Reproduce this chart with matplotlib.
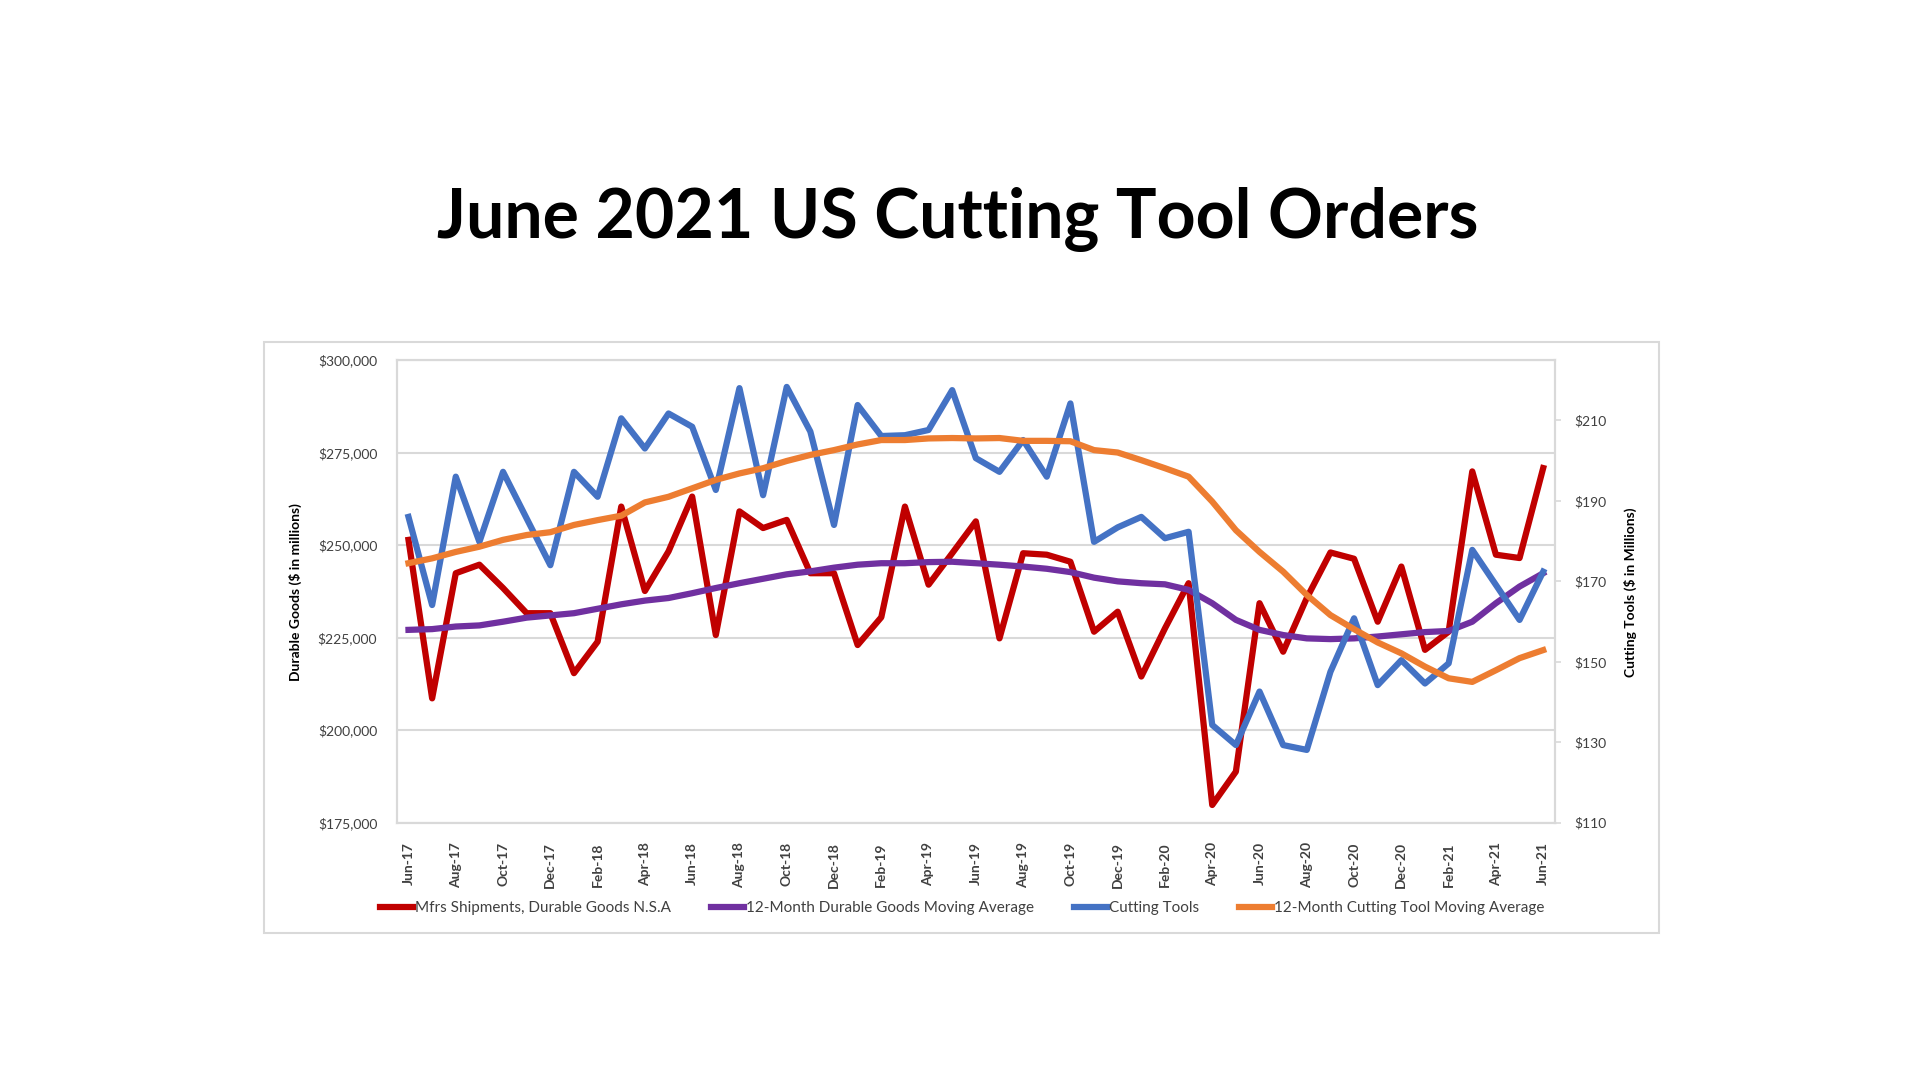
import matplotlib
matplotlib.use("Agg")
import matplotlib.pyplot as plt
from matplotlib.lines import Line2D
from matplotlib.patches import Rectangle
from matplotlib.ticker import FuncFormatter

plt.rcParams['font.family'] = ['Lato', 'DejaVu Sans']

#---------------------Data (Jun-17 .. Jun-21, monthly)---------------------
tick_labels = ['Jun-17', 'Aug-17', 'Oct-17', 'Dec-17', 'Feb-18', 'Apr-18', 'Jun-18',
               'Aug-18', 'Oct-18', 'Dec-18', 'Feb-19', 'Apr-19', 'Jun-19', 'Aug-19',
               'Oct-19', 'Dec-19', 'Feb-20', 'Apr-20', 'Jun-20', 'Aug-20', 'Oct-20',
               'Dec-20', 'Feb-21', 'Apr-21', 'Jun-21']

# Mfrs shipments, durable goods ($ millions)
durable_goods = [251400, 208600, 242400, 244700, 238400, 231600, 231600, 215400, 223900,
                 260400, 237600, 248300, 263100, 225700, 259100, 254600, 256800, 242400,
                 242400, 223000, 230500, 260400, 239300, 247800, 256400, 224800, 247800,
                 247400, 245500, 226600, 232000, 214500, 227500, 239700, 179800, 188800,
                 234300, 221200, 235700, 248000, 246300, 229300, 244200, 221700, 226600,
                 269900, 247400, 246500, 270800]

durable_avg = [227100, 227300, 228000, 228300, 229300, 230400, 231000, 231600, 232800,
               234000, 235000, 235700, 237000, 238400, 239700, 240900, 242100, 242900,
               243900, 244700, 245100, 245100, 245400, 245500, 245100, 244700, 244200,
               243600, 242700, 241200, 240200, 239700, 239400, 237900, 234300, 229800,
               227100, 225700, 224800, 224600, 224800, 225300, 225900, 226500, 226800,
               229300, 234300, 238800, 242400]

# Cutting tool orders ($ millions)
cutting_tools = [186.0, 164.1, 196.0, 179.8, 197.2, 185.6, 174.0, 197.2, 191.0, 210.5,
                 203.0, 211.7, 208.4, 192.7, 218.0, 191.4, 218.3, 207.2, 184.0, 213.8,
                 206.1, 206.3, 207.6, 217.5, 200.6, 197.2, 205.1, 196.0, 214.2, 179.8,
                 183.4, 186.0, 180.7, 182.3, 134.3, 129.3, 142.6, 129.3, 128.1, 147.5,
                 160.8, 144.2, 150.4, 144.6, 149.6, 177.8, 169.1, 160.4, 172.4]

cutting_avg = [174.5, 175.7, 177.3, 178.6, 180.3, 181.5, 182.2, 184.0, 185.2, 186.3,
               189.6, 191.0, 193.1, 195.2, 196.8, 198.1, 199.9, 201.4, 202.6, 204.0,
               205.1, 205.1, 205.5, 205.6, 205.5, 205.6, 204.9, 204.9, 204.8, 202.6,
               202.0, 200.1, 198.1, 196.0, 189.8, 182.7, 177.3, 172.4, 166.6, 161.6,
               158.1, 154.8, 152.1, 148.8, 145.9, 145.0, 147.9, 150.9, 152.9]

months = list(range(len(durable_goods)))

c_red = '#C00000'
c_purple = '#7030A0'
c_blue = '#4472C4'
c_orange = '#ED7D31'
c_grid = '#D9D9D9'
c_text = '#404040'
lw = 4.5

fig = plt.figure(figsize=(19.2, 10.8), dpi=100)
fig.patch.set_facecolor('white')

# outer chart frame
fig.patches.append(Rectangle((0.1373, 0.1361), 0.864 - 0.1373, 0.6833 - 0.1361,
                             transform=fig.transFigure, fill=False,
                             edgecolor=c_grid, linewidth=1.5))

fig.text(0.499, 0.797, 'June 2021 US Cutting Tool Orders', ha='center', va='center',
         fontsize=49, fontweight='bold', color='black')

ax1 = fig.add_axes([0.2066, 0.2382, 0.8099 - 0.2066, 0.6667 - 0.2382])
ax1.plot(months, durable_goods, color=c_red, linewidth=lw)
ax1.plot(months, durable_avg, color=c_purple, linewidth=lw)
ax1.set_ylim(175000, 300000)
ax1.set_yticks(range(175000, 300001, 25000))
ax1.yaxis.set_major_formatter(FuncFormatter(lambda v, p: f'${v:,.0f}'))
ax1.set_xlim(-0.5, len(months) - 0.5)
ax1.set_xticks(months[::2])
ax1.set_xticklabels(tick_labels, rotation=90, fontsize=10, fontweight='bold', color=c_text)
ax1.grid(axis='y', color=c_grid, linewidth=1.5)
ax1.set_axisbelow(True)
ax1.tick_params(axis='y', length=0, pad=14, labelsize=10, labelcolor=c_text)
ax1.tick_params(axis='x', length=0, pad=14)
for s in ax1.spines.values():
    s.set_color(c_grid)
    s.set_linewidth(1.5)

ax2 = ax1.twinx()
ax2.plot(months, cutting_tools, color=c_blue, linewidth=lw)
ax2.plot(months, cutting_avg, color=c_orange, linewidth=lw)
ax2.set_ylim(110, 225)
ax2.set_yticks(range(110, 211, 20))
ax2.yaxis.set_major_formatter(FuncFormatter(lambda v, p: f'${v:,.0f}'))
ax2.tick_params(axis='y', length=4, width=1.2, color=c_grid, pad=10,
                labelsize=10, labelcolor=c_text)
for s in ax2.spines.values():
    s.set_color(c_grid)
    s.set_linewidth(1.5)

fig.text(0.154, 0.452, 'Durable Goods ($ in millions)', rotation=90, ha='center',
         va='center', fontsize=10, fontweight='bold', color='black')
fig.text(0.849, 0.452, 'Cutting Tools ($ in Millions)', rotation=90, ha='center',
         va='center', fontsize=10, fontweight='bold', color='black')

handles = [Line2D([], [], color=c_red, linewidth=lw),
           Line2D([], [], color=c_purple, linewidth=lw),
           Line2D([], [], color=c_blue, linewidth=lw),
           Line2D([], [], color=c_orange, linewidth=lw)]
labels = ['Mfrs Shipments, Durable Goods N.S.A', '12-Month Durable Goods Moving Average',
          'Cutting Tools', '12-Month Cutting Tool Moving Average']
leg = fig.legend(handles, labels, loc='center', bbox_to_anchor=(0.501, 0.159), ncol=4,
                 frameon=False, fontsize=11, handlelength=2.2, handletextpad=0.1,
                 columnspacing=2.6)
for t in leg.get_texts():
    t.set_color(c_text)

fig.savefig('out.png', dpi=100)
